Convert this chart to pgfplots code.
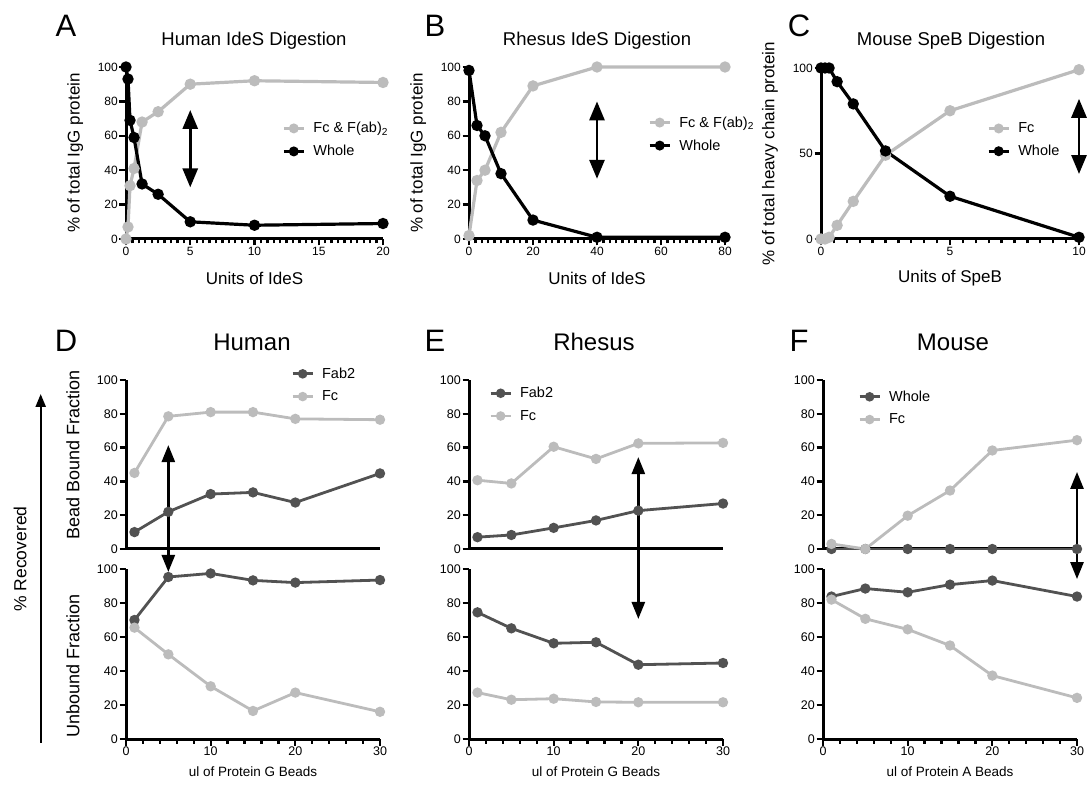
\documentclass[border=0pt]{standalone}
\usepackage{fontspec}
\setmainfont{Liberation Sans}
\usepackage{pgfplots}
\pgfplotsset{compat=1.18}
\usetikzlibrary{arrows.meta}

\definecolor{lgray}{RGB}{188,188,188}
\definecolor{dgray}{RGB}{82,82,82}

\pgfplotsset{
  prism/.style={
    scale only axis, clip=false,
    axis x line*=bottom, axis y line*=left,
    axis line style={line width=3pt, -},
    tick style={line width=2.3pt, black},
    major tick length=6.5pt, minor tick length=4.5pt,
    tick align=outside,
    /pgf/number format/assume math mode=true,
    scaled ticks=false,
    ticklabel style={font=\fontsize{12}{13}\selectfont, inner sep=1.5pt},
    legend style={draw=none, fill=none, inner sep=0pt, font=\fontsize{14.5}{16}\selectfont,
      row sep=7pt, cells={anchor=west},
      /tikz/every odd column/.append style={column sep=6pt}},
    legend image code/.code={\draw[mark repeat=2,mark phase=2,##1] plot coordinates {(0pt,0pt) (10pt,0pt) (20pt,0pt)};},
    legend image post style={mark size=3.3pt},
    label style={font=\fontsize{17}{19}\selectfont},
  },
  top/.style={prism, width=257pt, height=172pt, ymin=0, ymax=100,
    xlabel style={at={(axis description cs:0.5,-0.227)}, anchor=center},
    ylabel style={at={(axis description cs:-0.198,0.5)}, anchor=center},
  },
  bot/.style={prism, width=254pt, xmin=0, xmax=30, ymin=0, ymax=100, ytick={0,20,...,100},
    ticklabel style={font=\fontsize{12.5}{14}\selectfont},
    label style={font=\fontsize{18}{20}\selectfont},
  },
  upper/.style={bot, height=169pt, xtick=\empty},
  lower/.style={bot, height=170pt, xtick={0,10,20,30}, minor x tick num=4,
    xlabel style={at={(axis description cs:0.5,-0.19)}, anchor=center, font=\fontsize{13.5}{15}\selectfont}},
  blk/.style={black, line width=3.2pt, mark=*, mark size=4pt, mark options={solid}},
  gry/.style={lgray, line width=3.2pt, mark=*, mark size=4pt, mark options={solid}},
  dg/.style={dgray, line width=2.8pt, mark=*, mark size=3.7pt, mark options={solid}},
  lg/.style={lgray, line width=2.8pt, mark=*, mark size=3.7pt, mark options={solid}},
}
\tikzset{
  dbl/.style={line width=2.8pt, {Triangle[length=19pt,width=15pt]}-{Triangle[length=19pt,width=15pt]}},
  dbls/.style={line width=2.6pt, {Triangle[length=17pt,width=13pt]}-{Triangle[length=17pt,width=13pt]}},
}

\begin{document}
\begin{tikzpicture}[x=1pt,y=1pt]
\useasboundingbox (0,0) rectangle (1092,787);

% ---------- Panel letters and titles ----------
\node[anchor=base, font=\fontsize{31}{33}\selectfont] at (66,750) {A};
\node[anchor=base, font=\fontsize{31}{33}\selectfont] at (435,750) {B};
\node[anchor=base, font=\fontsize{31}{33}\selectfont] at (799,750) {C};
\node[anchor=base, font=\fontsize{31}{33}\selectfont] at (66,435) {D};
\node[anchor=base, font=\fontsize{31}{33}\selectfont] at (435,435) {E};
\node[anchor=base, font=\fontsize{31}{33}\selectfont] at (799,435) {F};

\node[anchor=base, font=\fontsize{18.5}{20}\selectfont] at (254,741) {Human IdeS Digestion};
\node[anchor=base, font=\fontsize{18.5}{20}\selectfont] at (597,741) {Rhesus IdeS Digestion};
\node[anchor=base, font=\fontsize{18.5}{20}\selectfont] at (951,741) {Mouse SpeB Digestion};

\node[anchor=base, font=\fontsize{24}{26}\selectfont] at (252,436) {Human};
\node[anchor=base, font=\fontsize{24}{26}\selectfont] at (594,436) {Rhesus};
\node[anchor=base, font=\fontsize{24}{26}\selectfont] at (953,436) {Mouse};

\node[rotate=90, anchor=center, font=\fontsize{17.5}{19}\selectfont] at (20,228) {\% Recovered};
\draw[line width=2.3pt, -{Triangle[length=13pt,width=10pt]}] (40.7,44) -- (40.7,393);

% ---------- A ----------
\begin{axis}[top, at={(126pt,548pt)}, anchor=south west,
  xmin=0, xmax=20, xtick={0,5,10,15,20}, minor x tick num=9, ytick={0,20,...,100},
  xlabel={Units of IdeS}, ylabel={\% of total IgG protein},
  legend style={at={(axis description cs:0.607,0.576)}, anchor=west}]
\addplot[gry] coordinates {(0,0) (0.156,7) (0.3125,31) (0.625,41) (1.25,68) (2.5,74) (5,90) (10,92) (20,91)};
\addlegendentry{Fc \& F(ab)\textsubscript{2}}
\addplot[blk] coordinates {(0,100) (0.156,93) (0.3125,69) (0.625,59) (1.25,32) (2.5,26) (5,10) (10,8) (20,9)};
\addlegendentry{Whole}
\draw[dbl] (axis cs:5,75) -- (axis cs:5,30);
\end{axis}

% ---------- B ----------
\begin{axis}[top, at={(469pt,548pt)}, anchor=south west, width=256pt,
  xmin=0, xmax=80, xtick={0,20,40,60,80}, minor x tick num=9, ytick={0,20,...,100},
  xlabel={Units of IdeS}, ylabel={\% of total IgG protein},
  legend style={at={(axis description cs:0.699,0.61)}, anchor=west}]
\addplot[gry] coordinates {(0,2) (2.5,34) (5,40) (10,62) (20,89) (40,100) (80,100)};
\addlegendentry{Fc \& F(ab)\textsubscript{2}}
\addplot[blk] coordinates {(0,98) (2.5,66) (5,60) (10,38) (20,11) (40,1) (80,1)};
\addlegendentry{Whole}
\draw[dbl] (axis cs:40,80) -- (axis cs:40,35);
\end{axis}

% ---------- C ----------
\begin{axis}[top, at={(821pt,548pt)}, anchor=south west, width=258pt, height=171pt,
  xmin=0, xmax=10, xtick={0,5,10}, minor x tick num=9, ytick={0,50,100},
  xlabel={Units of SpeB}, ylabel={\% of total heavy chain protein},
  legend style={at={(axis description cs:0.643,0.579)}, anchor=west}]
\addplot[gry] coordinates {(0,0) (0.156,0) (0.3125,1) (0.625,8) (1.25,22) (2.5,49) (5,75) (10,99)};
\addlegendentry{Fc}
\addplot[blk] coordinates {(0,100) (0.156,100) (0.3125,100) (0.625,92) (1.25,79) (2.5,51.5) (5,25) (10,1)};
\addlegendentry{Whole}
\draw[dbl] (axis cs:10,82) -- (axis cs:10,38);
\end{axis}

% ---------- D ----------
\begin{axis}[upper, at={(126pt,238pt)}, anchor=south west,
  ylabel={Bead Bound Fraction},
  ylabel style={at={(axis description cs:-0.209,0.556)}, anchor=center},
  legend style={at={(axis description cs:0.65,0.97)}, anchor=west}]
\addplot[dg] coordinates {(1,10) (5,22) (10,32.5) (15,33.5) (20,27.5) (30,44.7)};
\addlegendentry{Fab2}
\addplot[lg] coordinates {(1,45) (5,78.5) (10,81) (15,81) (20,77) (30,76.5)};
\addlegendentry{Fc}
\draw[dbls] (axis cs:5,61.5) -- (axis cs:5,-13.6);
\end{axis}
\begin{axis}[lower, at={(126pt,48pt)}, anchor=south west,
  xlabel={ul of Protein G Beads}, ylabel={Unbound Fraction},
  ylabel style={at={(axis description cs:-0.209,0.43)}, anchor=center}]
\addplot[dg] coordinates {(1,70) (5,95.3) (10,97.4) (15,93.3) (20,92) (30,93.5)};
\addplot[lg] coordinates {(1,65.5) (5,49.8) (10,31) (15,16.5) (20,27.3) (30,16)};
\end{axis}

% ---------- E ----------
\begin{axis}[upper, at={(469pt,238pt)}, anchor=south west,
  legend style={at={(axis description cs:0.079,0.855)}, anchor=west}]
\addplot[dg] coordinates {(1,7) (5,8.3) (10,12.5) (15,16.9) (20,22.7) (30,26.9)};
\addlegendentry{Fab2}
\addplot[lg] coordinates {(1,40.7) (5,38.8) (10,60.5) (15,53.3) (20,62.5) (30,62.8)};
\addlegendentry{Fc}
\draw[dbls] (axis cs:20,54.4) -- (axis cs:20,-41.4);
\end{axis}
\begin{axis}[lower, at={(469pt,48pt)}, anchor=south west,
  xlabel={ul of Protein G Beads}]
\addplot[dg] coordinates {(1,74.5) (5,65.1) (10,56.3) (15,56.9) (20,43.7) (30,44.7)};
\addplot[lg] coordinates {(1,27.3) (5,23.1) (10,23.7) (15,21.8) (20,21.6) (30,21.6)};
\end{axis}

% ---------- F ----------
\begin{axis}[upper, at={(823pt,238pt)}, anchor=south west,
  legend style={at={(axis description cs:0.138,0.834)}, anchor=west}]
\addplot[dg] coordinates {(1,0) (5,0) (10,0) (15,0) (20,0) (30,0)};
\addlegendentry{Whole}
\addplot[lg] coordinates {(1,3) (5,0) (10,19.7) (15,34.6) (20,58.3) (30,64.4)};
\addlegendentry{Fc}
\draw[dbls] (axis cs:30,45.6) -- (axis cs:30,-17.8);
\end{axis}
\begin{axis}[lower, at={(823pt,48pt)}, anchor=south west,
  xlabel={ul of Protein A Beads}]
\addplot[dg] coordinates {(1,83.8) (5,88.5) (10,86.3) (15,90.8) (20,93.2) (30,83.8)};
\addplot[lg] coordinates {(1,82) (5,70.7) (10,64.5) (15,55) (20,37.3) (30,24.2)};
\end{axis}
\end{tikzpicture}
\end{document}
